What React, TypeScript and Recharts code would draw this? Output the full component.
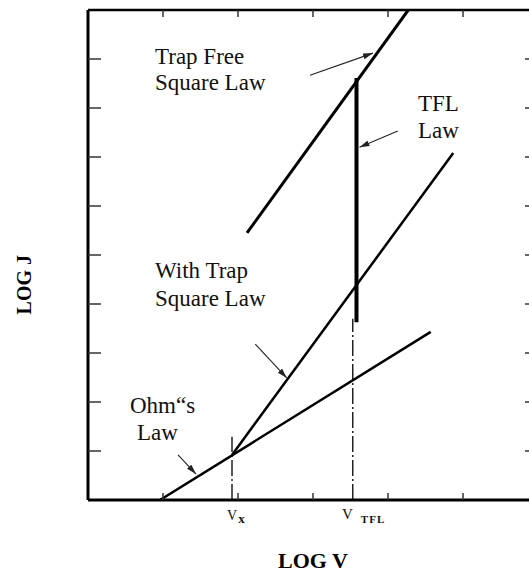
import React from "react";
import { ComposedChart, Line, XAxis, YAxis, ReferenceLine, Label } from "recharts";

// Axis ticks (log decades, arbitrary units)
const xTicks = [1, 2, 3, 4, 5];
const yTicks = [1, 2, 3, 4, 5, 6, 7, 8, 9];

// Series (v = log V, j = log J)
const ohmsLaw = [
  { v: 0.96, j: 0 },
  { v: 4.57, j: 3.43 },
];
const withTrapSquareLaw = [
  { v: 1.92, j: 0.92 },
  { v: 4.87, j: 7.08 },
];
const trapFreeSquareLaw = [
  { v: 2.12, j: 5.45 },
  { v: 4.27, j: 10 },
];
const tflLaw = [
  { v: 3.58, j: 3.63 },
  { v: 3.58, j: 8.61 },
];

// Guide lines at Vx and V_TFL
const vxGuide = [
  { x: 1.92, y: 0 },
  { x: 1.92, y: 1.29 },
];
const vtflGuide = [
  { x: 3.53, y: 0 },
  { x: 3.53, y: 3.7 },
];

// Annotation arrows (tail -> head)
const arrows = [
  [{ x: 2.96, y: 8.67 }, { x: 3.8, y: 9.12 }],
  [{ x: 4.13, y: 7.53 }, { x: 3.62, y: 7.2 }],
  [{ x: 2.23, y: 3.18 }, { x: 2.65, y: 2.49 }],
  [{ x: 1.2, y: 0.92 }, { x: 1.44, y: 0.53 }],
];

const SERIF = "'Times New Roman', 'Liberation Serif', serif";
const TXT = { fontFamily: SERIF, fontSize: 23, fill: "#111" } as const;
const NoLabel = () => <g />;

export default function App() {
  return (
    <div style={{ position: "fixed", left: 0, top: 0, width: 529, height: 573, overflow: "hidden", background: "#fff" }}>
      <ComposedChart width={545} height={573} margin={{ top: 10, right: 7, bottom: 73, left: 88 }}>
        <defs>
          <marker id="arrowHead" markerWidth={10} markerHeight={6} refX={10} refY={3} orient="auto" markerUnits="userSpaceOnUse">
            <path d="M0,0 L10,3 L0,6 z" fill="#222" />
          </marker>
        </defs>
        <XAxis xAxisId="b" dataKey="v" type="number" domain={[0, 6]} allowDataOverflow orientation="bottom" mirror
          ticks={xTicks} interval={0} tick={NoLabel} tickSize={7} tickLine={{ stroke: "#333", strokeWidth: 1.5 }}
          axisLine={{ stroke: "#000", strokeWidth: 3 }}>
          <Label value="LOG V" position="bottom" offset={52} style={{ fontFamily: SERIF, fontSize: 22, fontWeight: "bold", fill: "#000" }} />
        </XAxis>
        <XAxis xAxisId="t" dataKey="v" type="number" domain={[0, 6]} allowDataOverflow orientation="top" mirror
          ticks={xTicks} interval={0} tick={NoLabel} tickSize={7} tickLine={{ stroke: "#333", strokeWidth: 1.5 }}
          axisLine={{ stroke: "#000", strokeWidth: 2.5 }} />
        <YAxis yAxisId="l" type="number" domain={[0, 10]} allowDataOverflow orientation="left" mirror
          ticks={yTicks} interval={0} tick={NoLabel} tickSize={13} tickLine={{ stroke: "#333", strokeWidth: 1.5 }}
          axisLine={{ stroke: "#000", strokeWidth: 3 }}>
          <Label value="LOG J" position="left" angle={-90} offset={64} style={{ fontFamily: SERIF, fontSize: 20, fontWeight: "bold", fill: "#000" }} />
        </YAxis>
        <YAxis yAxisId="r" type="number" domain={[0, 10]} allowDataOverflow orientation="right" mirror
          ticks={yTicks} interval={0} tick={NoLabel} tickSize={13} tickLine={{ stroke: "#333", strokeWidth: 1.5 }}
          axisLine={{ stroke: "#000", strokeWidth: 3 }} />

        <ReferenceLine xAxisId="b" yAxisId="l" segment={vxGuide} stroke="#222" strokeWidth={1.5} strokeDasharray="16 3 2 3" />
        <ReferenceLine xAxisId="b" yAxisId="l" segment={vtflGuide} stroke="#222" strokeWidth={1.5} strokeDasharray="16 3 2 3" />

        <Line xAxisId="b" yAxisId="l" data={ohmsLaw} dataKey="j" type="linear" stroke="#000" strokeWidth={2.5} dot={false} activeDot={false} isAnimationActive={false} />
        <Line xAxisId="b" yAxisId="l" data={withTrapSquareLaw} dataKey="j" type="linear" stroke="#000" strokeWidth={2.5} dot={false} activeDot={false} isAnimationActive={false} />
        <Line xAxisId="b" yAxisId="l" data={trapFreeSquareLaw} dataKey="j" type="linear" stroke="#000" strokeWidth={3} dot={false} activeDot={false} isAnimationActive={false} />
        <Line xAxisId="b" yAxisId="l" data={tflLaw} dataKey="j" type="linear" stroke="#000" strokeWidth={4} dot={false} activeDot={false} isAnimationActive={false} />

        {arrows.map((seg, i) => (
          <ReferenceLine key={i} xAxisId="b" yAxisId="l" segment={seg} stroke="#222" strokeWidth={1.1} markerEnd="url(#arrowHead)" />
        ))}

        <text {...TXT} x={155} y={64}>Trap Free</text>
        <text {...TXT} x={155} y={90}>Square Law</text>
        <text {...TXT} x={418} y={111}>TFL</text>
        <text {...TXT} x={418} y={138}>Law</text>
        <text {...TXT} x={155} y={278}>With Trap</text>
        <text {...TXT} x={155} y={306}>Square Law</text>
        <text {...TXT} x={130} y={413}>Ohm“s</text>
        <text {...TXT} x={137} y={440}>Law</text>

        <text fontFamily={SERIF} fontSize={14} fill="#111" x={227} y={520}>
          V<tspan fontSize={13} fontWeight="bold" dx={1} dy={3}>x</tspan>
        </text>
        <text fontFamily={SERIF} fontSize={15} fill="#111" x={342} y={519}>
          V<tspan fontSize={11} fontWeight="bold" dx={8} dy={4} letterSpacing={1}>TFL</tspan>
        </text>
      </ComposedChart>
    </div>
  );
}
